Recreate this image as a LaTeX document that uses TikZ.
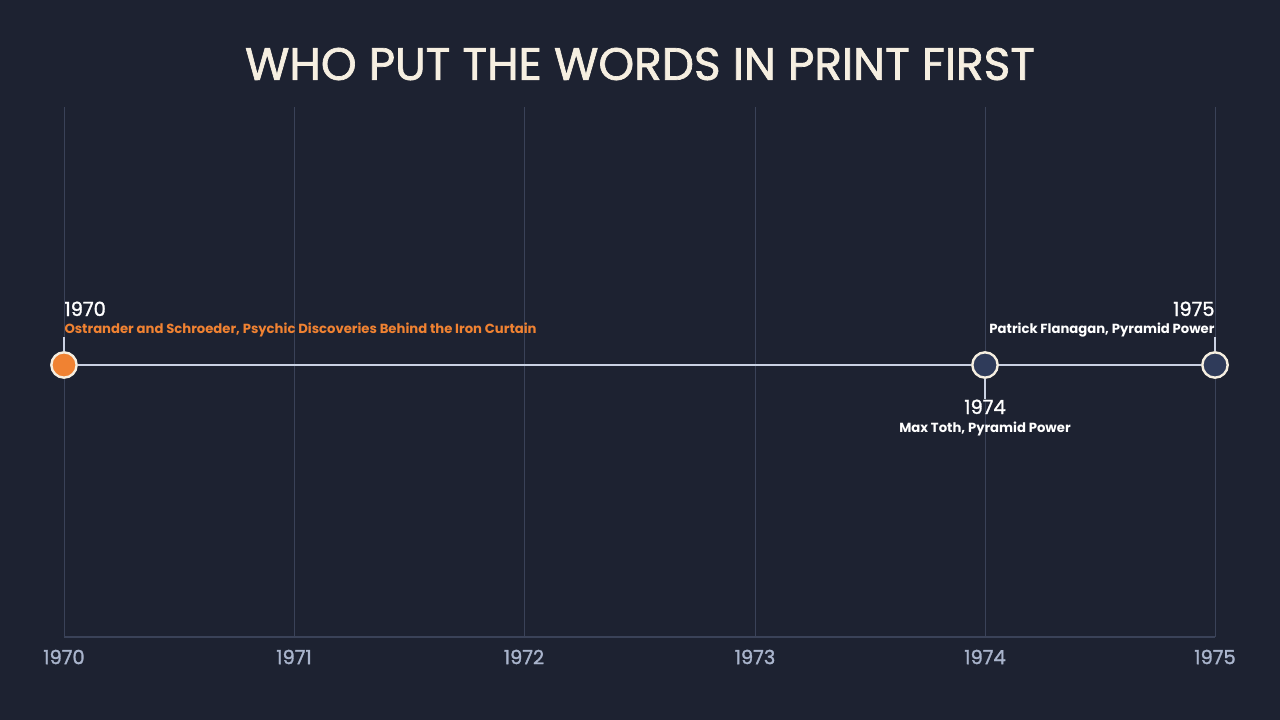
\documentclass[tikz,border=0pt]{standalone}
\usepackage{fontspec}
\setmainfont{Poppins}
\newfontfamily\medfont{Poppins}[FakeBold=1.5]

\definecolor{bgdark}{HTML}{1D2231}
\definecolor{gridgray}{HTML}{3A4258}
\definecolor{lineblue}{HTML}{C9D1E2}
\definecolor{ticklabel}{HTML}{A9B4CC}
\definecolor{creamy}{HTML}{F6EFE1}
\definecolor{evorange}{HTML}{F08232}
\definecolor{evnavy}{HTML}{2F3B5A}

\tikzset{every picture/.style={line width=0.75pt}}
\tikzset{
  evdot/.style={circle,draw=creamy,line width=1.8pt,minimum size=19pt,inner sep=0pt},
  yearlab/.style={inner sep=0pt,text=white,font=\medfont\fontsize{14.6}{16}\selectfont},
  sublab/.style={inner sep=0pt,font=\bfseries\fontsize{9.9}{11}\selectfont},
  axislab/.style={text=ticklabel,font=\medfont\fontsize{14.6}{16}\selectfont},
  stem/.style={draw=lineblue,line width=0.9pt}
}

\begin{document}
\begin{tikzpicture}[x=0.75pt,y=0.75pt,yscale=-1,xscale=1]
%background, sets size of diagram
\path[fill=bgdark,use as bounding box] (0,0) rectangle (1280,720);

%Title
\node (title) at (640,64) [text=creamy,font=\medfont\fontsize{34.1}{38}\selectfont] {WHO PUT THE WORDS IN PRINT FIRST};

%Grid lines and axis labels
\foreach \yr/\xx in {1970/64,1971/294,1972/524,1973/755,1974/985,1975/1215}{
  \draw[gridgray] (\xx,107) -- (\xx,637);
  \node[axislab] (ax\yr) at (\xx,657) {\yr};
}
%Straight Lines - axis
\draw[gridgray,line width=1pt] (64,637) -- (1215,637);

%Events
\node[evdot,fill=evorange] (m1970) at (64,365) {};
\node[evdot,fill=evnavy] (m1974) at (985,365) {};
\node[evdot,fill=evnavy] (m1975) at (1215,365) {};

%Timeline
\draw[lineblue,line width=1.4pt] (m1970) -- (m1974) -- (m1975);

% Text Node
\node[yearlab,anchor=base west] (y1970) at (64,316) {1970};
\node[sublab,anchor=base west,text=evorange] (s1970) at (64,333) {Ostrander and Schroeder, Psychic Discoveries Behind the Iron Curtain};
% Text Node
\node[yearlab,anchor=base] (y1974) at (985,414) {1974};
\node[sublab,anchor=base,text=white] (s1974) at (985,432) {Max Toth, Pyramid Power};
% Text Node
\node[yearlab,anchor=base east] (y1975) at (1215,316) {1975};
\node[sublab,anchor=base east,text=white] (s1975) at (1215,333) {Patrick Flanagan, Pyramid Power};

%Stems
\draw[stem] (m1970.north) -- (m1970.north |- s1970.south);
\draw[stem] (m1975.north) -- (m1975.north |- s1975.south);
\draw[stem] (m1974.south) -- (m1974.south |- y1974.north);

\end{tikzpicture}
\end{document}
